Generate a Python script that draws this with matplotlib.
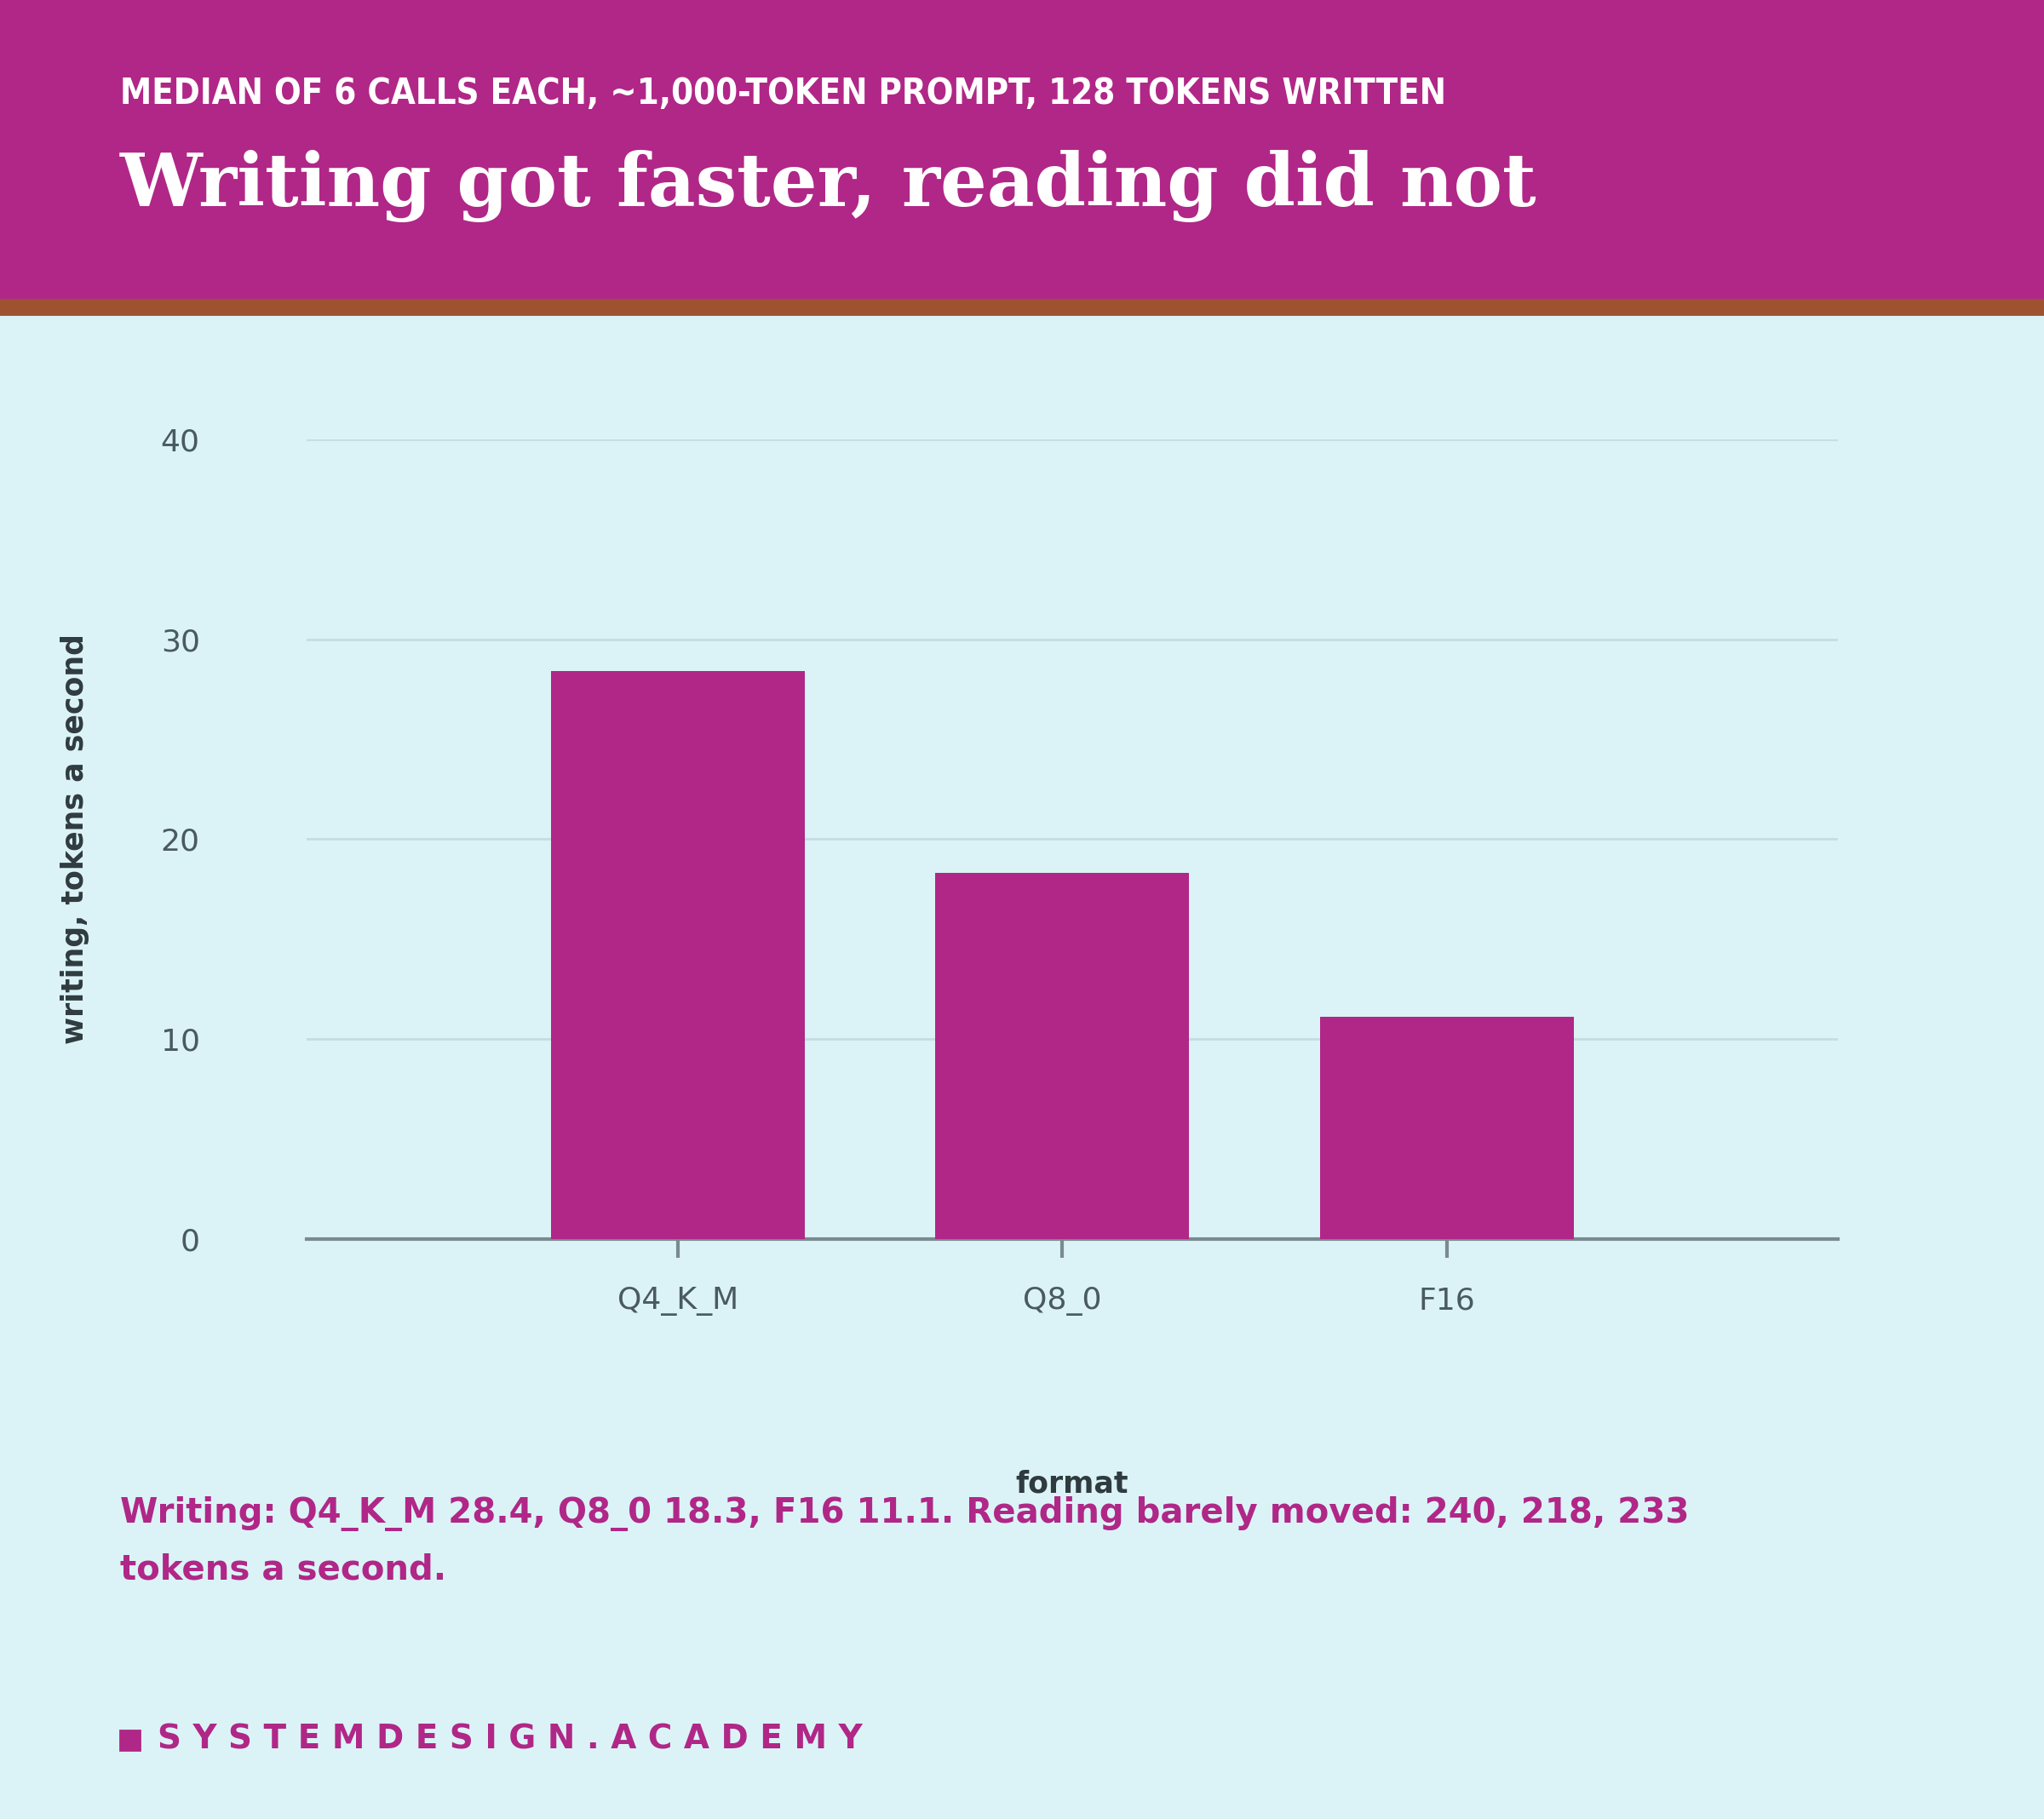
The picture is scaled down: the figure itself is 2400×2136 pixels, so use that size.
import matplotlib
matplotlib.use("Agg")
import matplotlib.pyplot as plt
from matplotlib.patches import Rectangle, FancyBboxPatch

categories = ["Q4_K_M", "Q8_0", "F16"]
writing = [28.4, 18.3, 11.1]
yticks = [0, 10, 20, 30, 40]

MAG = "#B02787"
BG = "#DBF3F7"
BROWN = "#9E5230"
TXT = "#4A5A5E"
W, H = 1568, 1396

fig = plt.figure(figsize=(12, 10.68), dpi=200, facecolor=BG)
fig.patches.append(Rectangle((0, 1 - 230 / H), 1, 230 / H, transform=fig.transFigure, color=MAG, zorder=0))
fig.patches.append(Rectangle((0, 1 - 241 / H), 1, 11 / H, transform=fig.transFigure, color=BROWN, zorder=0))

def fx(px): return px / W
def fy(py): return 1 - py / H

fig.text(fx(92), fy(72), "MEDIAN OF 6 CALLS EACH, ~1,000-TOKEN PROMPT, 128 TOKENS WRITTEN",
         color="white", fontsize=15, fontweight="bold", va="center", family="DejaVu Sans",
         fontstretch="condensed")
fig.text(fx(92), fy(143), "Writing got faster, reading did not", color="white", fontsize=31,
         fontweight="bold", va="center", family="DejaVu Serif")

ax = fig.add_axes([fx(235), fy(951), fx(1410) - fx(235), fy(337) - fy(951)])
ax.set_facecolor(BG)
x = list(range(len(categories)))
ax.bar(x, writing, width=0.66, color=MAG, zorder=3)
ax.set_xlim(-0.966, 3.017)
ax.set_ylim(0, 40)
ax.set_yticks(yticks)
ax.set_xticks(x)
ax.set_xticklabels(categories)
ax.grid(axis="y", color="#C3DDE2", lw=1, zorder=0)
for s in ["top", "right", "left"]:
    ax.spines[s].set_visible(False)
ax.spines["bottom"].set_color("#7A8A8E")
ax.spines["bottom"].set_linewidth(1.5)
ax.tick_params(axis="y", length=0, pad=45, labelsize=13, labelcolor=TXT)
ax.tick_params(axis="x", length=8, color="#7A8A8E", width=1.5, pad=12, labelsize=13, labelcolor=TXT)
ax.set_ylabel("writing, tokens a second", fontsize=12.5, fontweight="bold", color="#2F3B3E", labelpad=30)
ax.set_xlabel("format", fontsize=12.5, fontweight="bold", color="#2F3B3E", labelpad=65)

fig.text(fx(92), fy(1162), "Writing: Q4_K_M 28.4, Q8_0 18.3, F16 11.1. Reading barely moved: 240, 218, 233",
         color=MAG, fontsize=14.5, fontweight="bold", va="center")
fig.text(fx(92), fy(1205), "tokens a second.", color=MAG, fontsize=14.5, fontweight="bold", va="center")

fig.patches.append(Rectangle((fx(92), fy(1343)), 15 / W, 15 / H, transform=fig.transFigure, color=MAG))
fig.text(fx(121), fy(1335), "S Y S T E M D E S I G N . A C A D E M Y", color=MAG, fontsize=14,
         fontweight="bold", va="center")

fig.savefig("out.png", dpi=200, facecolor=BG)
